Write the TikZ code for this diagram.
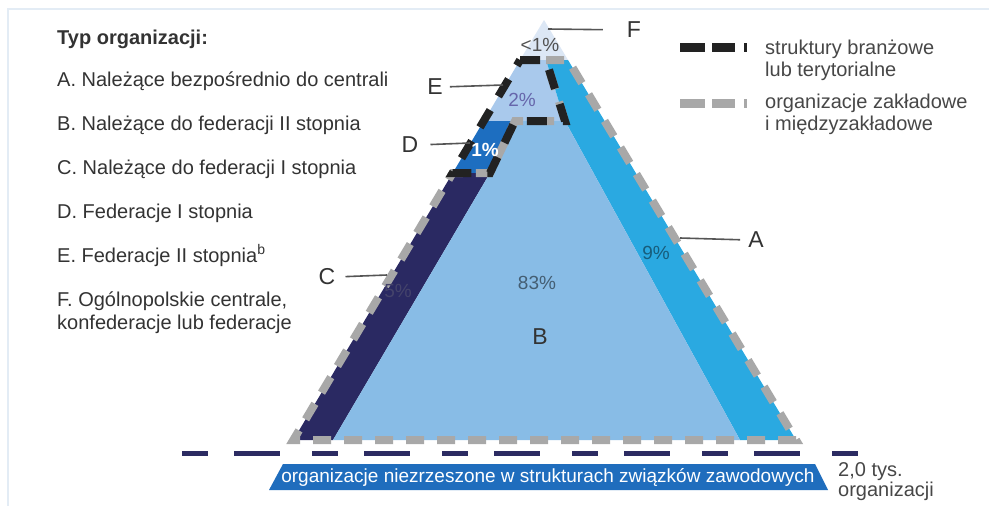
\documentclass[tikz,border=0pt]{standalone}
\usepackage{fontspec}
\setmainfont{Liberation Sans}
\definecolor{cF}{HTML}{DCE7F5}
\definecolor{cE}{HTML}{A9C9EC}
\definecolor{cB}{HTML}{88BCE6}
\definecolor{cA}{HTML}{2AA9E1}
\definecolor{cC}{HTML}{2A2962}
\definecolor{cD}{HTML}{1D6EC0}
\definecolor{cGrayDash}{HTML}{A8A8A8}
\definecolor{cBlackDash}{HTML}{222222}
\definecolor{cNavyLine}{HTML}{2C2B62}
\definecolor{cBanner}{HTML}{1F6DBD}
\definecolor{cText}{HTML}{333333}
\definecolor{cLine}{HTML}{555555}
\definecolor{cFrame}{HTML}{E3ECF5}
\begin{document}
\begin{tikzpicture}[x=1pt,y=-1pt,
  graydash/.style={draw=cGrayDash, line width=8pt, dash pattern=on 18pt off 13pt},
  blackdash/.style={draw=cBlackDash, line width=8pt, dash pattern=on 20pt off 16pt},
  lbl/.style={font=\fontsize{23}{23}\selectfont, text=cText, inner sep=0pt},
  leader/.style={draw=cLine, line width=1.6pt},
  item/.style={anchor=base west, font=\fontsize{20}{23}\selectfont, text=cText, inner sep=0pt, align=left},
  pct/.style={font=\fontsize{19}{19}\selectfont, inner sep=0pt},
  frame/.style={draw=cFrame, line width=2.5pt}]
\useasboundingbox (0,0) rectangle (989,506);
\fill[white] (0,0) rectangle (989,506);
\draw[frame] (8,506) -- (8,9) -- (989,9);

% geometry
\coordinate (P) at (544,20);
\coordinate (Lf) at (520.1,60);
\coordinate (Af) at (546,60);
\coordinate (Rf) at (568,60);
\coordinate (Le) at (483.7,121);
\coordinate (De) at (515,121);
\coordinate (Ae) at (565,121);
\coordinate (Ld) at (452.7,173);
\coordinate (Dd) at (490,173);
\coordinate (Lb) at (293.3,440);
\coordinate (Cb) at (333,440);
\coordinate (Ab) at (740,440);
\coordinate (Rb) at (796,440);

% regions
\fill[cF] (P) -- (Lf) -- (Rf) -- cycle;
\fill[cE] (Lf) -- (Af) -- (Ae) -- (Le) -- cycle;
\fill[cA] (Af) -- (Rf) -- (Rb) -- (Ab) -- (Ae) -- cycle;
\fill[cD] (Le) -- (De) -- (Dd) -- (Ld) -- cycle;
\fill[cC] (Ld) -- (Dd) -- (Cb) -- (Lb) -- cycle;
\fill[cB] (De) -- (Ae) -- (Ab) -- (Cb) -- (Dd) -- cycle;

% dashed outlines
\draw[graydash] (Af) -- (Rf) -- (Rb) -- (Lb) -- (Ld) -- (Dd) -- (De) -- (Ae) -- cycle;
\draw[blackdash] (Lf) -- (Af) -- (Ae) -- (De) -- (Dd) -- (Ld) -- cycle;

% percentages
\node[pct, text=cText!85] (pF) at (540,45) {<1\%};
\node[pct, text=black!55!blue!60] (pE) at (522,100) {2\%};
\node[pct, text=white, font=\fontsize{19}{19}\selectfont\bfseries] (pD) at (485,150) {1\%};
\node[pct, text=cC!70!gray] (pC) at (398,291) {5\%};
\node[pct, text=black!50!cB] (pB) at (537,283) {83\%};
\node[pct, text=black!45!cA] (pA) at (656,253) {9\%};
\node[lbl] (labB) at (540,337) {B};

% labels and leaders
\node[lbl] (labF) at (634,30) {F};
\coordinate (tF) at (548,29);
\draw[leader, shorten >=24pt] (tF) -- (labF.west);
\node[lbl] (labE) at (435,87) {E};
\coordinate (tE) at (503,85);
\draw[leader, shorten <=7pt] (labE.east) -- (tE);
\node[lbl] (labD) at (410,145) {D};
\coordinate (tD) at (470,143);
\draw[leader, shorten <=12pt] (labD.east) -- (tD);
\node[lbl] (labC) at (327,277) {C};
\coordinate (tC) at (387,275);
\draw[leader, shorten <=10pt] (labC.east) -- (tC);
\node[lbl] (labA) at (756,240) {A};
\coordinate (tA) at (680,238);
\draw[leader, shorten >=8pt] (tA) -- (labA.west);

% left list
\node[item, font=\fontsize{20}{23}\selectfont\bfseries] (typ) at (57,44) {Typ organizacji:};
\node[item] (iA) at (57,86) {A. Należące bezpośrednio do centrali};
\node[item] (iB) at (57,130) {B. Należące do federacji II stopnia};
\node[item] (iC) at (57,174) {C. Należące do federacji I stopnia};
\node[item] (iD) at (57,218) {D. Federacje I stopnia};
\node[item] (iE) at (57,262) {E. Federacje II stopnia\textsuperscript{b}};
\node[item] (iF) at (57,306) {F. Ogólnopolskie centrale,};
\node[item] (iF2) at (57,329) {konfederacje lub federacje};

% legend
\coordinate (kb1) at (680,47.5);
\coordinate (kb2) at (747,47.5);
\draw[draw=cBlackDash, line width=9pt, dash pattern=on 25pt off 7pt on 23pt off 9pt on 2.5pt off 100pt] (kb1) -- (kb2);
\coordinate (kg1) at (680,103);
\coordinate (kg2) at (747,103);
\draw[draw=cGrayDash, line width=9pt, dash pattern=on 25pt off 7pt on 23pt off 9pt on 2.5pt off 100pt] (kg1) -- (kg2);
\node[item, text=cText!90] (lg1) at (765,54) {struktury branżowe};
\node[item, text=cText!90] (lg2) at (765,76) {lub terytorialne};
\node[item, text=cText!90] (lg3) at (765,108) {organizacje zakładowe};
\node[item, text=cText!90] (lg4) at (765,130) {i międzyzakładowe};

% bottom dashed line and banner
\coordinate (bl1) at (182,453);
\coordinate (bl2) at (858,453);
\draw[draw=cNavyLine, line width=5pt, dash pattern=on 26pt off 26pt on 46pt off 32pt] (bl1) -- (bl2);
\fill[cBanner] (283,464) -- (815,464) -- (828,490) -- (269,490) -- cycle;
\node[font=\fontsize{19}{19}\selectfont, text=white, inner sep=0pt] (banner) at (548,477.5) {organizacje niezrzeszone w strukturach związków zawodowych};
\node[item, text=cText!90] (tys) at (838,476) {2,0 tys.};
\node[item, text=cText!90] (org) at (838,496) {organizacji};
\end{tikzpicture}
\end{document}
